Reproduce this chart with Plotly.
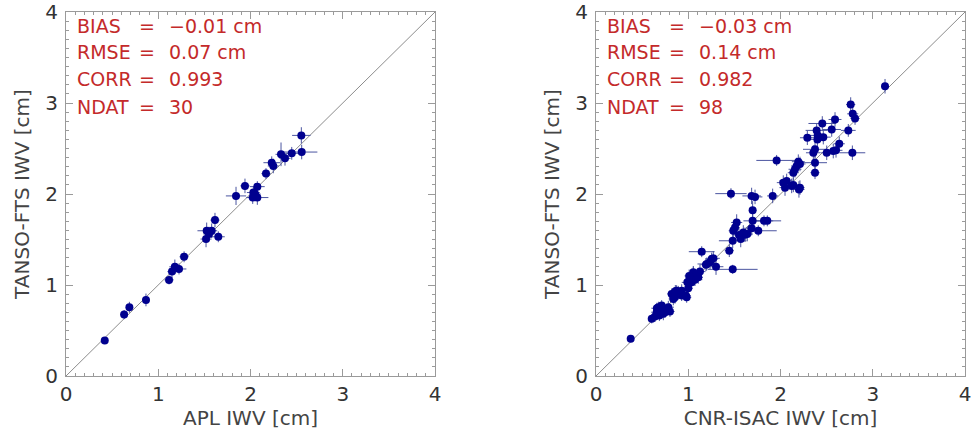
import plotly.graph_objects as go

# ---------------- data ----------------
apl_x = [0.42, 0.63, 0.687, 0.867, 1.117, 1.149, 1.18, 1.225, 1.28, 1.525,
         1.579, 1.518, 1.615, 1.651, 1.55, 1.843, 1.94, 2.074, 2.031, 2.024,
         2.074, 2.05, 2.168, 2.23, 2.247, 2.331, 2.374, 2.447, 2.551, 2.555]
apl_y = [0.39, 0.675, 0.755, 0.836, 1.056, 1.147, 1.2, 1.176, 1.31, 1.596,
         1.596, 1.505, 1.713, 1.53, 1.56, 1.979, 2.089, 2.081, 2.016, 1.961,
         1.961, 2.0, 2.224, 2.344, 2.308, 2.436, 2.392, 2.447, 2.644, 2.461]
apl_xerr = [0.03, 0.04, 0.03, 0.04, 0.05, 0.05, 0.06, 0.08, 0.05, 0.1,
            0.06, 0.06, 0.05, 0.07, 0.06, 0.11, 0.05, 0.08, 0.07, 0.06,
            0.12, 0.06, 0.05, 0.09, 0.06, 0.06, 0.06, 0.07, 0.1, 0.17]
apl_yerr = [0.03, 0.05, 0.06, 0.07, 0.05, 0.07, 0.08, 0.06, 0.06, 0.09,
            0.08, 0.09, 0.08, 0.06, 0.08, 0.1, 0.08, 0.06, 0.07, 0.07,
            0.08, 0.07, 0.06, 0.07, 0.08, 0.13, 0.08, 0.07, 0.09, 0.08]

cnr_x = [0.376, 0.604, 0.64, 0.658, 0.676, 0.66, 0.687, 0.712, 0.73, 0.748,
         0.784, 0.802, 0.77, 0.70, 0.82, 0.838, 0.856, 0.874, 0.892, 0.903,
         0.929, 0.929, 0.976, 0.983, 1.0, 0.99, 1.019, 1.037, 1.055, 1.073,
         1.109, 1.127, 1.055, 1.146, 1.192, 1.236, 1.254, 1.272, 1.301, 1.2,
         1.482, 1.445, 1.482, 1.569, 1.597, 1.615, 1.488, 1.507, 1.525, 1.687,
         1.759, 1.698, 1.821, 1.857, 1.698, 1.463, 1.687, 1.724, 1.915, 2.03,
         2.067, 2.049, 2.121, 2.211, 2.139, 2.139, 2.157, 2.175, 2.193, 2.211,
         1.958, 2.374, 2.374, 2.356, 2.374, 2.501, 2.572, 2.602, 2.637, 2.779,
         2.291, 2.403, 2.464, 2.392, 2.555, 2.735, 2.453, 2.591, 2.761, 2.783,
         2.808, 3.133, 2.2, 1.55, 1.01, 0.86, 1.64, 2.4]
cnr_y = [0.41, 0.628, 0.654, 0.701, 0.756, 0.745, 0.664, 0.774, 0.683, 0.701,
         0.756, 0.709, 0.72, 0.70, 0.902, 0.847, 0.865, 0.938, 0.92, 0.909,
         0.884, 0.938, 0.883, 0.865, 0.964, 1.029, 1.067, 1.03, 1.121, 1.059,
         1.084, 1.147, 1.139, 1.366, 1.223, 1.249, 1.286, 1.293, 1.201, 1.231,
         1.172, 1.377, 1.486, 1.505, 1.577, 1.552, 1.596, 1.632, 1.687, 1.625,
         1.596, 1.705, 1.705, 1.705, 1.822, 2.004, 1.979, 1.968, 1.979, 2.125,
         2.143, 2.07, 2.089, 2.07, 2.1, 2.234, 2.272, 2.308, 2.355, 2.33,
         2.369, 2.234, 2.344, 2.453, 2.491, 2.453, 2.472, 2.48, 2.552, 2.453,
         2.618, 2.644, 2.625, 2.699, 2.709, 2.699, 2.775, 2.819, 2.983, 2.881,
         2.830, 3.184, 2.05, 1.55, 1.1, 0.93, 1.56, 2.6]
cnr_xerr = [0.03, 0.04, 0.05, 0.06, 0.05, 0.06, 0.05, 0.06, 0.05, 0.06,
            0.06, 0.05, 0.06, 0.05, 0.05, 0.05, 0.06, 0.05, 0.06, 0.05,
            0.05, 0.06, 0.05, 0.05, 0.05, 0.06, 0.05, 0.06, 0.06, 0.08,
            0.05, 0.06, 0.05, 0.14, 0.06, 0.06, 0.07, 0.07, 0.08, 0.1,
            0.27, 0.05, 0.15, 0.06, 0.07, 0.06, 0.05, 0.05, 0.06, 0.06,
            0.2, 0.1, 0.1, 0.15, 0.04, 0.17, 0.1, 0.08, 0.06, 0.07,
            0.08, 0.06, 0.06, 0.05, 0.06, 0.06, 0.07, 0.06, 0.07, 0.06,
            0.22, 0.05, 0.13, 0.08, 0.13, 0.06, 0.06, 0.07, 0.06, 0.14,
            0.08, 0.1, 0.08, 0.12, 0.1, 0.08, 0.15, 0.07, 0.05, 0.06,
            0.05, 0.04, 0.06, 0.06, 0.05, 0.06, 0.06, 0.08]
cnr_yerr = [0.03, 0.05, 0.06, 0.07, 0.06, 0.06, 0.06, 0.06, 0.07, 0.06,
            0.07, 0.06, 0.06, 0.07, 0.06, 0.07, 0.07, 0.06, 0.07, 0.06,
            0.06, 0.07, 0.06, 0.06, 0.07, 0.08, 0.07, 0.08, 0.08, 0.07,
            0.07, 0.08, 0.07, 0.06, 0.07, 0.08, 0.07, 0.08, 0.09, 0.07,
            0.05, 0.07, 0.08, 0.09, 0.08, 0.08, 0.07, 0.08, 0.09, 0.08,
            0.06, 0.1, 0.06, 0.06, 0.1, 0.06, 0.09, 0.08, 0.08, 0.08,
            0.08, 0.09, 0.08, 0.08, 0.08, 0.08, 0.09, 0.09, 0.08, 0.08,
            0.06, 0.07, 0.08, 0.08, 0.09, 0.08, 0.08, 0.08, 0.08, 0.08,
            0.08, 0.08, 0.08, 0.08, 0.08, 0.07, 0.08, 0.08, 0.08, 0.07,
            0.07, 0.08, 0.09, 0.08, 0.07, 0.07, 0.08, 0.08]

stat_names = ["BIAS", "RMSE", "CORR", "NDAT"]
apl_stats = ["\u22120.01 cm", "0.07 cm", "0.993", "30"]
cnr_stats = ["\u22120.03 cm", "0.14 cm", "0.982", "98"]
x_titles = ["APL IWV [cm]", "CNR-ISAC IWV [cm]"]
y_title = "TANSO-FTS IWV [cm]"
diag = [0, 4]
tick_vals = [0, 1, 2, 3, 4]

# ---------------- style ----------------
FONT = "'DejaVu Sans', sans-serif"
MARK = "#00008f"
ERRC = "#4b55a0"
RED = "#c42a2a"
AXC = "#9a9a9a"

fig = go.Figure()

panels = [
    (apl_x, apl_y, apl_xerr, apl_yerr, apl_stats, "x", "y"),
    (cnr_x, cnr_y, cnr_xerr, cnr_yerr, cnr_stats, "x2", "y2"),
]
row_y = [3.85, 3.56, 3.26, 2.96]

for xs, ys, xe, ye, stats, xa, ya in panels:
    fig.add_trace(go.Scatter(x=diag, y=diag, mode="lines",
                             line=dict(color="#8c8c8c", width=1),
                             xaxis=xa, yaxis=ya, hoverinfo="skip",
                             showlegend=False))
    fig.add_trace(go.Scatter(
        x=xs, y=ys, mode="markers",
        marker=dict(color=MARK, size=8, line=dict(width=0)),
        error_x=dict(type="data", array=xe, color=ERRC, thickness=1, width=0),
        error_y=dict(type="data", array=ye, color=ERRC, thickness=1, width=0),
        xaxis=xa, yaxis=ya, showlegend=False))
    for i, name in enumerate(stat_names):
        common = dict(xref=xa, yref=ya, y=row_y[i], showarrow=False,
                      font=dict(family=FONT, size=19, color=RED),
                      yanchor="middle")
        fig.add_annotation(x=0.1, text=name, xanchor="left", **common)
        fig.add_annotation(x=0.88, text="=", xanchor="center", **common)
        fig.add_annotation(x=1.09, text=stats[i], xanchor="left", **common)

def axis(domain, title, anchor, standoff, lblstand):
    return dict(
        domain=domain, range=[0, 4], tickvals=tick_vals,
        ticks="inside", ticklen=7, tickwidth=1, tickcolor=AXC,
        minor=dict(dtick=0.1, ticks="inside", ticklen=3, tickcolor=AXC,
                   tickwidth=1, showgrid=False),
        showline=True, linecolor=AXC, linewidth=1, mirror="allticks",
        showgrid=False, zeroline=False, anchor=anchor, automargin=False,
        ticklabelstandoff=lblstand, ticklabeloverflow="allow",
        tickfont=dict(family=FONT, size=20, color="#333333"),
        title=dict(text=title, font=dict(family=FONT, size=20, color="#444444"),
                   standoff=standoff),
    )

fig.update_layout(
    width=974, height=434,
    margin=dict(l=66, r=9, t=12, b=58, autoexpand=False),
    plot_bgcolor="white", paper_bgcolor="white",
    xaxis=axis([0, 369 / 899], x_titles[0], "y", 1, 0),
    yaxis=axis([0, 1], y_title, "x", 10, 3),
    xaxis2=axis([530 / 899, 1], x_titles[1], "y2", 1, 0),
    yaxis2=axis([0, 1], y_title, "x2", 10, 3),
)

# remove the default page margin so the figure fills the window exactly
fig.write_html("out.html",
               config={"displayModeBar": False},
               post_script="document.body.style.margin='0px';")
